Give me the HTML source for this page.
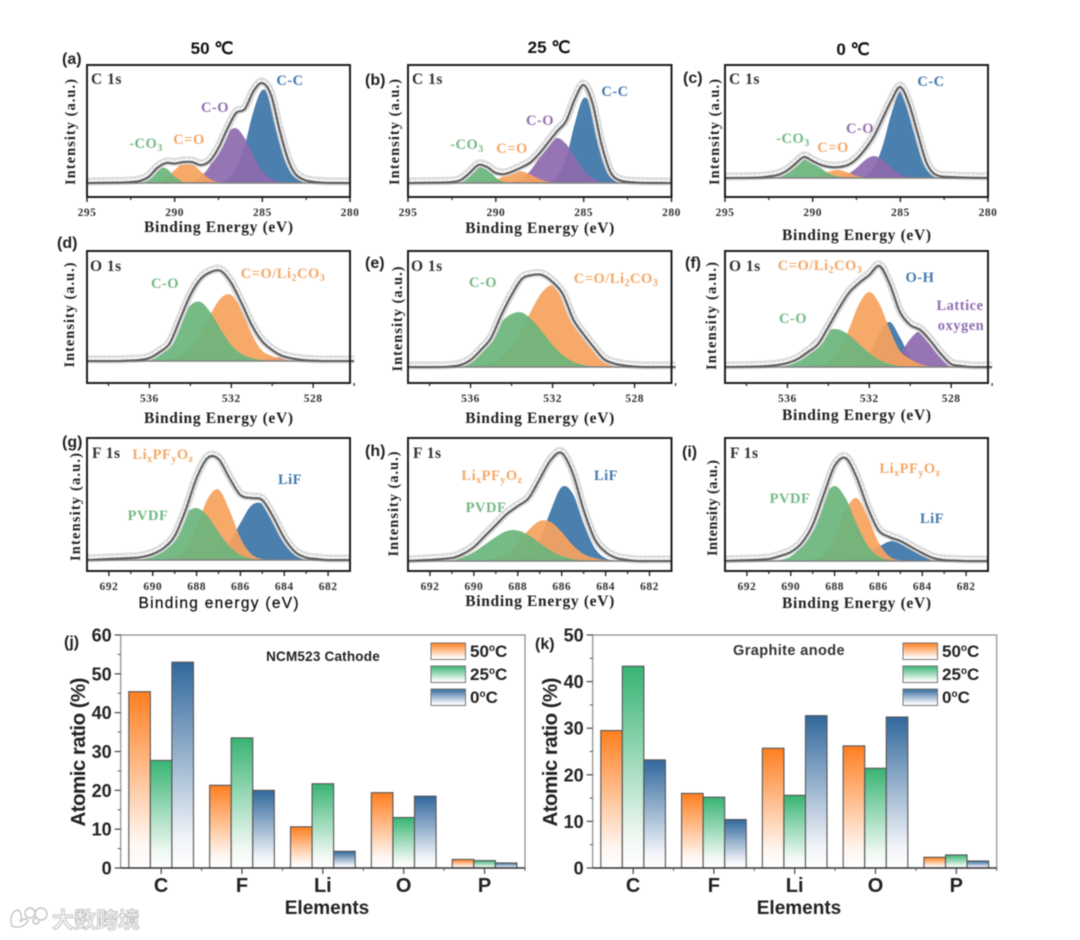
<!DOCTYPE html>
<html lang="en">
<head>
<meta charset="utf-8">
<title>XPS spectra and atomic ratios</title>
<style>
html,body{margin:0;padding:0;background:#fff;}
body{width:1080px;height:940px;overflow:hidden;}
svg{display:block;filter:blur(.5px);}
.sans{font-family:"Liberation Sans",sans-serif;font-weight:bold;}
.serif{font-family:"Liberation Serif",serif;font-weight:bold;}
.note{font-family:"Liberation Serif",serif;font-weight:bold;font-size:14.5px;letter-spacing:.5px;}
.core{font-family:"Liberation Serif",serif;font-weight:bold;font-size:15.5px;fill:#333;letter-spacing:.5px;}
.green{fill:#74b985;}.orange{fill:#f5a766;}.purple{fill:#8f6fb2;}.blue{fill:#427aab;}
.plab{font-family:"Liberation Sans",sans-serif;font-weight:bold;font-size:16px;fill:#222;}
.legend{font-family:"Liberation Sans",sans-serif;font-weight:bold;font-size:17px;fill:#222;}
</style>
</head>
<body>
<svg id="fig" xmlns="http://www.w3.org/2000/svg" width="1080" height="940" viewBox="0 0 1080 940">
<defs>
<linearGradient id="gradOrange" x1="0" y1="0" x2="0" y2="1"><stop offset="0" stop-color="#ff7f20"/><stop offset=".85" stop-color="#fff6f1"/><stop offset="1" stop-color="#ffffff"/></linearGradient>
<linearGradient id="gradGreen" x1="0" y1="0" x2="0" y2="1"><stop offset="0" stop-color="#38b473"/><stop offset=".85" stop-color="#f1f9f4"/><stop offset="1" stop-color="#ffffff"/></linearGradient>
<linearGradient id="gradBlue" x1="0" y1="0" x2="0" y2="1"><stop offset="0" stop-color="#31689c"/><stop offset=".85" stop-color="#f0f3f8"/><stop offset="1" stop-color="#ffffff"/></linearGradient>
</defs>
<rect width="1080" height="940" fill="#fff"/>

<g id="layer-xps"></g>
<g id="layer-bars"></g>

<g class="sans" font-size="17" fill="#111" text-anchor="middle">
<text x="212" y="54">50 ℃</text>
<text x="549" y="53">25 ℃</text>
<text x="853" y="55">0 ℃</text>
</g>

<g>
<text class="plab" x="62" y="64">(a)</text>
<text class="plab" x="365" y="85">(b)</text>
<text class="plab" x="683" y="83">(c)</text>
<text class="plab" x="57" y="248">(d)</text>
<text class="plab" x="365" y="268">(e)</text>
<text class="plab" x="685" y="268">(f)</text>
<text class="plab" x="62" y="447">(g)</text>
<text class="plab" x="365" y="456">(h)</text>
<text class="plab" x="682" y="457">(i)</text>
<text class="plab" x="64" y="647">(j)</text>
<text class="plab" x="535" y="649">(k)</text>
</g>

<g>
<text class="core" x="91" y="84">C 1s</text>
<text class="note green" x="146" y="148" text-anchor="middle">-CO<tspan dy="3" font-size="10">3</tspan></text>
<text class="note orange" x="189" y="144" text-anchor="middle">C=O</text>
<text class="note purple" x="215" y="112" text-anchor="middle">C-O</text>
<text class="note blue" x="290" y="85" text-anchor="middle">C-C</text>

<text class="core" x="412" y="84">C 1s</text>
<text class="note green" x="467" y="149" text-anchor="middle">-CO<tspan dy="3" font-size="10">3</tspan></text>
<text class="note orange" x="512" y="153" text-anchor="middle">C=O</text>
<text class="note purple" x="540" y="125" text-anchor="middle">C-O</text>
<text class="note blue" x="615" y="96" text-anchor="middle">C-C</text>

<text class="core" x="729" y="84">C 1s</text>
<text class="note green" x="793" y="143" text-anchor="middle">-CO<tspan dy="3" font-size="10">3</tspan></text>
<text class="note orange" x="833" y="152" text-anchor="middle">C=O</text>
<text class="note purple" x="860" y="133" text-anchor="middle">C-O</text>
<text class="note blue" x="931" y="86" text-anchor="middle">C-C</text>

<text class="core" x="90" y="271">O 1s</text>
<text class="note green" x="165" y="288" text-anchor="middle">C-O</text>
<text class="note orange" x="283" y="278" text-anchor="middle">C=O/Li<tspan dy="3" font-size="10">2</tspan><tspan dy="-3">CO</tspan><tspan dy="3" font-size="10">3</tspan></text>

<text class="core" x="411" y="271">O 1s</text>
<text class="note green" x="483" y="287" text-anchor="middle">C-O</text>
<text class="note orange" x="616" y="283" text-anchor="middle">C=O/Li<tspan dy="3" font-size="10">2</tspan><tspan dy="-3">CO</tspan><tspan dy="3" font-size="10">3</tspan></text>

<text class="core" x="729" y="271">O 1s</text>
<text class="note orange" x="820" y="270" text-anchor="middle">C=O/Li<tspan dy="3" font-size="10">2</tspan><tspan dy="-3">CO</tspan><tspan dy="3" font-size="10">3</tspan></text>
<text class="note blue" x="920" y="282" text-anchor="middle">O-H</text>
<text class="note purple" x="960" y="310" text-anchor="middle">Lattice</text>
<text class="note purple" x="961" y="330" text-anchor="middle">oxygen</text>
<text class="note green" x="793" y="323" text-anchor="middle">C-O</text>

<text class="core" x="92" y="458">F 1s</text>
<text class="note orange" x="163" y="459" text-anchor="middle">Li<tspan dy="3" font-size="10">x</tspan><tspan dy="-3">PF</tspan><tspan dy="3" font-size="10">y</tspan><tspan dy="-3">O</tspan><tspan dy="3" font-size="10">z</tspan></text>
<text class="note blue" x="290" y="484" text-anchor="middle">LiF</text>
<text class="note green" x="148" y="520" text-anchor="middle">PVDF</text>

<text class="core" x="413" y="458">F 1s</text>
<text class="note orange" x="492" y="480" text-anchor="middle">Li<tspan dy="3" font-size="10">x</tspan><tspan dy="-3">PF</tspan><tspan dy="3" font-size="10">y</tspan><tspan dy="-3">O</tspan><tspan dy="3" font-size="10">z</tspan></text>
<text class="note blue" x="606" y="480" text-anchor="middle">LiF</text>
<text class="note green" x="486" y="512" text-anchor="middle">PVDF</text>

<text class="core" x="730" y="458">F 1s</text>
<text class="note orange" x="910" y="473" text-anchor="middle">Li<tspan dy="3" font-size="10">x</tspan><tspan dy="-3">PF</tspan><tspan dy="3" font-size="10">y</tspan><tspan dy="-3">O</tspan><tspan dy="3" font-size="10">z</tspan></text>
<text class="note blue" x="932" y="523" text-anchor="middle">LiF</text>
<text class="note green" x="790" y="503" text-anchor="middle">PVDF</text>
</g>

<g>
<text class="sans" font-size="13.5" fill="#222" x="323" y="661" text-anchor="middle" letter-spacing=".2">NCM523 Cathode</text>
<text class="sans" font-size="14.5" fill="#333" x="789" y="655" text-anchor="middle" letter-spacing=".4">Graphite anode</text>

<g>
<rect x="431" y="643" width="34.5" height="16.5" fill="url(#gradOrange)" stroke="#777"/>
<text class="legend" x="470" y="657">50<tspan font-size="10" dy="-6">o</tspan><tspan dy="6">C</tspan></text>
<rect x="431" y="666" width="34.5" height="16.5" fill="url(#gradGreen)" stroke="#777"/>
<text class="legend" x="470" y="680">25<tspan font-size="10" dy="-6">o</tspan><tspan dy="6">C</tspan></text>
<rect x="431" y="689" width="34.5" height="16.5" fill="url(#gradBlue)" stroke="#777"/>
<text class="legend" x="470" y="703">0<tspan font-size="10" dy="-6">o</tspan><tspan dy="6">C</tspan></text>
</g>
<g>
<rect x="903" y="643" width="34.5" height="16.5" fill="url(#gradOrange)" stroke="#777"/>
<text class="legend" x="942" y="657">50<tspan font-size="10" dy="-6">o</tspan><tspan dy="6">C</tspan></text>
<rect x="903" y="666" width="34.5" height="16.5" fill="url(#gradGreen)" stroke="#777"/>
<text class="legend" x="942" y="680">25<tspan font-size="10" dy="-6">o</tspan><tspan dy="6">C</tspan></text>
<rect x="903" y="689" width="34.5" height="16.5" fill="url(#gradBlue)" stroke="#777"/>
<text class="legend" x="942" y="703">0<tspan font-size="10" dy="-6">o</tspan><tspan dy="6">C</tspan></text>
</g>
</g>

<g>
<g fill="#fff" stroke="#c4c4c4" stroke-width="1.4">
<path d="M12 926 C9 918 12 911 18 910 C22 912 22 918 20 922 C24 918 27 918 28 921 C25 926 18 929 12 926Z"/>
<circle cx="30" cy="913" r="5"/>
<circle cx="41" cy="914" r="6"/>
<circle cx="36" cy="921" r="3"/>
</g>
<text x="52" y="928" font-family='"Liberation Sans","Noto Sans CJK SC",sans-serif' font-weight="bold" font-size="22" fill="#f3f3f3" stroke="#b5b5b5" stroke-width=".7">大数跨境</text>
</g>
</svg>

<script>
/* ---------- XPS data: binding energy (eV) and intensity (a.u.) ---------- */
const cEnergy = [295,293,292.5,292,291.5,291,290.5,290,289.5,289,288.5,288,287.5,287,286.5,286,285.5,285,284.5,284,283.5,283,282,280];
const oEnergy = [539,537.5,537,536.5,536,535.5,535,534.5,534,533.5,533,532.5,532,531.5,531,530.5,530,529.5,529,528.5,528,527.5,527,526];
const fEnergy = [693,691,690.5,690,689.5,689,688.5,688,687.5,687,686.5,686,685.5,685,684.5,684,683.5,683,682.5,682,681];

const cTicks = [295,290,285,280];
const cMinor = [292.5,287.5,282.5];
const oTicks = [536,532,528];
const oMinor = [538,534,530,526];
const fTicks = [692,690,688,686,684,682];
const fMinor = [691,689,687,685,683];

const aCO3 = [0,0,0,0.7,5,13.6,14.8,6.5,1.1,0,0,0,0,0,0,0,0,0,0,0,0,0,0,0];
const aCdO = [0,0,0,0,0,1.3,5.2,13,20,19.3,11.4,4.1,0.9,0,0,0,0,0,0,0,0,0,0,0];
const aCsO = [0,0,0,0,0,0,0,0,0,1.8,6.5,17,34,50,54.7,44.6,27,12,4,1,0,0,0,0];
const aCC  = [0,0,0,0,0,0,0,0,0,0,0,0,0,3.5,14,38,72,93,83.6,51,22,6.4,0,0];
const aEnv = [0,0.5,1,2,6,15,20,19.5,21,21,18,22,35,54,70,74,92,100,88,52,22,7,1,0];

const bCO3 = [0,0,0,2,9,17.3,14.7,5.4,0.9,0,0,0,0,0,0,0,0,0,0,0,0,0,0,0];
const bCdO = [0,0,0,0,0,0,1,3.2,7.3,11.2,11.6,8.2,3.9,1.3,0,0,0,0,0,0,0,0,0,0];
const bCsO = [0,0,0,0,0,0,0,0,0,1.4,4.9,13,26,39,45,39,26,13,4.9,1.4,0,0,0,0];
const bCC  = [0,0,0,0,0,0,0,0,0,0,0,0,0,1,6.3,25,59.6,85,73,38,11.6,2,0,0];
const bEnv = [0,0.5,1,3,10,18,16,10,9,12,16,21,30,41,52,62,84,98,80,40,12,3,0.5,0];

const cCO3 = [0,0.3,1.2,4,9.5,16,19,16,9.5,4,1.2,0.3,0,0,0,0,0,0,0,0,0,0,0,0];
const cCdO = [0,0,0,0,0,0,0,1.1,3.5,6.8,8,5.5,2.3,0.6,0,0,0,0,0,0,0,0,0,0];
const cCsO = [0,0,0,0,0,0,0,0,0,0,1,3.8,10,18,22,18,10,3.8,1,0,0,0,0,0];
const cCC  = [0,0,0,0,0,0,0,0,0,0,0,0,0.3,2.3,10.7,32.6,65,87,77,45,17.6,4.5,0,0];
const cEnv = [0,0.5,1.5,3,7,14,21,17,13,11,11,13,19,29,42,60,78,91,74,44,15,3.5,1,0];

const dCsO = [0,0,0,0,2,7,19.5,38.5,55.6,59,48,31,16,7,3,1,0,0,0,0,0,0,0,0];
const dCdO = [0,0,0,0,0,0,1.6,5,14,29,47.5,63,66,51,27,10.6,5,2,0.5,0,0,0,0,0];
const dLat = [0,0,0,0,0,0,0,0,0,0,0,0,0,0,0,1,2.5,4,3,1,0,0,0,0];
const dEnv = [0,0,0.5,1,3,9,18,42,66,82,89,90,78,58,36,20,11,5,2.5,1,0.3,0,0,0];

const eCsO = [0,0,1.7,4.5,10,19.5,32,45,53,54.5,47,35,22,11.7,5.3,2,0.6,0,0,0,0,0,0,0];
const eCdO = [0,0,0,0,0,0,3.6,9.3,20,37.5,58,75,82,75,58,37.5,20,9.3,3.6,1.1,0,0,0,0];
const eEnv = [0,0,0.5,2,7,17,29,52,72,88,92,92,85,73,48,33,20,8,3.5,1.5,0.5,0,0,0];

const fCsO = [0,0,1,2.5,6,12.3,21,30.4,37,37.5,32,23,14,7,3,1,0,0,0,0,0,0,0,0];
const fCdO = [0,0,0,0,0,0,0,1,4.7,16,37.5,63,75,63,37.5,16,8,3,0.5,0,0,0,0,0];
const fOH  = [0,0,0,0,0,0,0,0,0,0,0,2.4,13,34,45,29.6,9.7,1.6,0,0,0,0,0,0];
const fLat = [0,0,0,0,0,0,0,0,0,0,0,0,0,0,3.6,13,28,36,28,13,3.6,0.5,0,0];
const fEnv = [0,0.5,1,2,4,8,15,23,40,58,74,84,92,101,83,55,42,37,26,13,3,1,0,0];

const gPVDF = [0,0.4,1.9,6.3,16,31.5,46.5,52,44,28,13.7,5,1.4,0.3,0,0,0,0,0,0,0];
const gLiPF = [0,0,0,0,0,2.2,10.7,32.5,61,70.5,50,22,6,1,0,0,0,0,0,0,0];
const gLiF  = [0,0,0,0,0,0,0,0,1.5,6,18,37,54.5,56,41,21.4,7.9,2,0.4,0,0];
const gEnv  = [0,2,3,6,12,24,50,82,102,101,82,65,62,60,43,22,8,2.5,1,0,0];

const hPVDF = [0,1.6,4,9,16.4,24,30,30.5,25.7,18,10.4,5,2,0.7,0,0,0,0,0,0,0];
const hLiPF = [0,0,0,0,0,2.8,8,18.5,31,40,39,29,16,7,3,1,0.3,0,0,0,0];
const hLiF  = [0,0,0,0,0,0,0,1,5.5,21,50.5,74,67.5,37.5,13,2.8,0.4,0,0,0,0];
const hEnv  = [0,3,7,14,25,36,47,55,63,82,101,108,88,51,22,9,3,1,0,0,0];

const iPVDF = [0,0,1,4.7,15.6,37.5,63,75,63,37.5,15.6,4.7,1,0,0,0,0,0,0,0,0];
const iLiPF = [0,0,0,0,0,1,6.5,24,51,63,45,19,4.6,0.7,0,0,0,0,0,0,0];
const iLiF  = [0,0,0,0,0,0,0,0,1,3.2,7.8,14,19.5,19,13,6.8,2.6,0.7,0,0,0];
const iEnv  = [0,2,5,9,18,36,66,95,103,84,54,31,24,20,14,8,3,1,0.5,0,0];

/* ---------- Bar data: atomic ratio (%) ---------- */
const elements = ['C','F','Li','O','P'];
const jTicks = [0,10,20,30,40,50,60];
const kTicks = [0,10,20,30,40,50];
const jSeries50 = [45.4,21.3,10.6,19.4,2.2];
const jSeries25 = [27.7,33.5,21.7,13,1.9];
const jSeries0  = [53,20,4.3,18.5,1.3];
const kSeries50 = [29.5,16,25.7,26.2,2.3];
const kSeries25 = [43.3,15.2,15.6,21.4,2.8];
const kSeries0  = [23.2,10.4,32.7,32.4,1.5];

const NS = 'http://www.w3.org/2000/svg';
function el(tag, attrs, parent, text){
  const n = document.createElementNS(NS, tag);
  for (const k in attrs) n.setAttribute(k, attrs[k]);
  if (text !== undefined) n.textContent = text;
  parent.appendChild(n);
  return n;
}
function smooth(pts){
  let d = 'M' + pts[0][0].toFixed(2) + ' ' + pts[0][1].toFixed(2);
  for (let i = 0; i < pts.length - 1; i++){
    const p0 = pts[Math.max(i-1,0)], p1 = pts[i], p2 = pts[i+1], p3 = pts[Math.min(i+2,pts.length-1)];
    const seg = p2[0]-p1[0];
    const m1 = (p2[1]-p0[1])/((p2[0]-p0[0])||1);
    const m2 = (p3[1]-p1[1])/((p3[0]-p1[0])||1);
    d += 'C' + (p1[0]+seg/3).toFixed(2) + ' ' + (p1[1]+m1*seg/3).toFixed(2) + ' ' +
         (p2[0]-seg/3).toFixed(2) + ' ' + (p2[1]-m2*seg/3).toFixed(2) + ' ' +
         p2[0].toFixed(2) + ' ' + p2[1].toFixed(2);
  }
  return d;
}

const PEAK = {green:'#6cb57d', orange:'#f6a35f', purple:'#8d6aae', blue:'#3c75a8'};

function drawXps(cfg){
  const root = document.getElementById('layer-xps');
  const g = el('g', {}, root);
  
  
  const X = e => cfg.x0 + (cfg.dom[0]-e)/(cfg.dom[0]-cfg.dom[1])*(cfg.x1-cfg.x0);
  const Y = v => cfg.base - v;

  cfg.peaks.forEach(pk => {
    const pts = cfg.energy.map((e,i) => [X(e), Y(pk.values[i])]);
    const d = smooth(pts) + 'L' + X(cfg.energy[cfg.energy.length-1]).toFixed(2) + ' ' + cfg.base + 'L' + X(cfg.energy[0]).toFixed(2) + ' ' + cfg.base + 'Z';
    const p = el('path', {d:d, fill:PEAK[pk.color], 'fill-opacity':0.93}, g);
    
    
  });

  const envD = smooth(cfg.energy.map((e,i) => [X(e), Y(cfg.env[i])]));
  const raw = el('path', {d:envD, fill:'none', stroke:'#dadada', 'stroke-width':8, 'stroke-linejoin':'round', transform:'translate(0 -1.5)'}, g);
  
  
  const rawDots = el('path', {d:envD, fill:'none', stroke:'#f7f7f7', 'stroke-width':4.5, 'stroke-linecap':'round', 'stroke-dasharray':'0.1 4.5', transform:'translate(0 -1.5)'}, g);
  
  

  const base = el('line', {x1:cfg.x0, x2:cfg.x1, y1:cfg.base, y2:cfg.base, stroke:'#808080', 'stroke-width':1.6}, g);
  
  

  const line = el('path', {d:envD, fill:'none', stroke:'#5c5c5c', 'stroke-width':2.1, 'stroke-linejoin':'round'}, g);
  
  

  const frame = el('rect', {x:cfg.x0, y:cfg.y0, width:cfg.x1-cfg.x0, height:cfg.y1-cfg.y0, fill:'none', stroke:'#1c1c1c', 'stroke-width':2}, g);
  
  

  cfg.ticks.forEach(t => {
    const tk = el('line', {x1:X(t), x2:X(t), y1:cfg.y1, y2:cfg.y1+5, stroke:'#222', 'stroke-width':1.4}, g);
    
    
    const lb = el('text', {x:X(t), y:cfg.y1+19, 'text-anchor':'middle', 'font-size':11.5, fill:'#333', 'letter-spacing':0.5, class:'serif'}, g, String(t));
    
    
  });
  cfg.minor.forEach(t => {
    const tk = el('line', {x1:X(t), x2:X(t), y1:cfg.y1, y2:cfg.y1+3, stroke:'#222', 'stroke-width':1.2}, g);
    
    
  });

  const xt = el('text', {x:(cfg.x0+cfg.x1)/2, y:cfg.xTitleY, 'text-anchor':'middle', fill:cfg.xTitleSans?'#111':'#222', textLength:cfg.xTitleLen||149, lengthAdjust:'spacing', class:cfg.xTitleSans?'sans':'serif', 'font-size':15.5, style:cfg.xTitleSans?'font-weight:normal;stroke:#111;stroke-width:.25':''}, g, cfg.xTitle||'Binding Energy (eV)');
  
  
  const yt = el('text', {transform:'translate('+cfg.yTitleX+' '+cfg.yTitleY+') rotate(-90)', 'text-anchor':'middle', fill:'#222', textLength:cfg.yLen, lengthAdjust:'spacing', class:'serif', 'font-size':14.5}, g, 'Intensity (a.u.)');
  
  
}

const C_DOM = [295,280], O_DOM = [539.05,526.2], F_DOM = [693,681];
const cPeakDefs = (co3,cdo,cso,cc) => [
  {name:'c-c', color:'blue', values:cc},
  {name:'c-o', color:'purple', values:cso},
  {name:'c-double-o', color:'orange', values:cdo},
  {name:'co3', color:'green', values:co3}
];
drawXps({id:'a', x0:87,x1:350,y0:65,y1:197,base:183,dom:C_DOM,energy:cEnergy,ticks:cTicks,minor:cMinor,env:aEnv,peaks:cPeakDefs(aCO3,aCdO,aCsO,aCC),xTitleY:232,yTitleX:75,yTitleY:132,yLen:106});
drawXps({id:'b', x0:408,x1:671.5,y0:65,y1:197,base:183,dom:C_DOM,energy:cEnergy,ticks:cTicks,minor:cMinor,env:bEnv,peaks:cPeakDefs(bCO3,bCdO,bCsO,bCC),xTitleY:233,yTitleX:399,yTitleY:132,yLen:106});
drawXps({id:'c', x0:725,x1:988,y0:65,y1:197,base:178,dom:C_DOM,energy:cEnergy,ticks:cTicks,minor:cMinor,env:cEnv,peaks:cPeakDefs(cCO3,cCdO,cCsO,cCC),xTitleY:240,yTitleX:719,yTitleY:132,yLen:106});
drawXps({id:'d', x0:87,x1:350,y0:251,y1:383,base:361,dom:O_DOM,energy:oEnergy,ticks:oTicks,minor:oMinor,env:dEnv,peaks:[
  {name:'lattice', color:'purple', values:dLat},
  {name:'c-double-o', color:'orange', values:dCdO},
  {name:'c-o', color:'green', values:dCsO}],xTitleY:423,yTitleX:74,yTitleY:315,yLen:105});
drawXps({id:'e', x0:408,x1:671.5,y0:251,y1:383,base:367,dom:O_DOM,energy:oEnergy,ticks:oTicks,minor:oMinor,env:eEnv,peaks:[
  {name:'c-double-o', color:'orange', values:eCdO},
  {name:'c-o', color:'green', values:eCsO}],xTitleY:423,yTitleX:402,yTitleY:319,yLen:105});
drawXps({id:'f', x0:725,x1:988,y0:251,y1:383,base:367,dom:O_DOM,energy:oEnergy,ticks:oTicks,minor:oMinor,env:fEnv,peaks:[
  {name:'o-h', color:'blue', values:fOH},
  {name:'lattice', color:'purple', values:fLat},
  {name:'c-double-o', color:'orange', values:fCdO},
  {name:'c-o', color:'green', values:fCsO}],xTitleY:420,yTitleX:716,yTitleY:316,yLen:108});
drawXps({id:'g', x0:87,x1:350,y0:438,y1:571,base:560,dom:F_DOM,energy:fEnergy,ticks:fTicks,minor:fMinor,env:gEnv,peaks:[
  {name:'lif', color:'blue', values:gLiF},
  {name:'lixpfyoz', color:'orange', values:gLiPF},
  {name:'pvdf', color:'green', values:gPVDF}],xTitle:'Binding energy (eV)',xTitleSans:true,xTitleLen:160,xTitleY:608,yTitleX:80,yTitleY:507,yLen:108});
drawXps({id:'h', x0:408,x1:671.5,y0:438,y1:571,base:561,dom:F_DOM,energy:fEnergy,ticks:fTicks,minor:fMinor,env:hEnv,peaks:[
  {name:'lif', color:'blue', values:hLiF},
  {name:'lixpfyoz', color:'orange', values:hLiPF},
  {name:'pvdf', color:'green', values:hPVDF}],xTitleY:606,yTitleX:398,yTitleY:504,yLen:105});
drawXps({id:'i', x0:725,x1:988,y0:438,y1:571,base:561,dom:F_DOM,energy:fEnergy,ticks:fTicks,minor:fMinor,env:iEnv,peaks:[
  {name:'lif', color:'blue', values:iLiF},
  {name:'lixpfyoz', color:'orange', values:iLiPF},
  {name:'pvdf', color:'green', values:iPVDF}],xTitleY:608,yTitleX:717,yTitleY:508,yLen:96});

function drawBars(cfg){
  const root = document.getElementById('layer-bars');
  const g = el('g', {}, root);
  
  
  const catStep = (cfg.x1 - cfg.x0) / elements.length;
  const barW = catStep * 0.2667;
  const cx = i => cfg.x0 + catStep * (i + 0.5);
  const Y = v => cfg.y0 - v / cfg.max * (cfg.y0 - cfg.y1);

  cfg.series.forEach((s, si) => {
    s.values.forEach((v, i) => {
      const x = cx(i) + (si - 1.5) * barW;
      const r = el('rect', {x:x, y:Y(v), width:barW, height:cfg.y0-Y(v), fill:'url(#'+s.grad+')', stroke:'#555', 'stroke-width':1.1}, g);
      
      
    });
  });

  const frame = el('path', {d:'M'+cfg.x0+' '+cfg.y0+'V'+cfg.y1+'H'+cfg.x1+'V'+cfg.y0, fill:'none', stroke:'#8a8a8a', 'stroke-width':1.2}, g);
  
  
  const xAxis = el('line', {x1:cfg.x0, x2:cfg.x1, y1:cfg.y0, y2:cfg.y0, stroke:'#333', 'stroke-width':1.6}, g);
  
  

  cfg.ticks.forEach((t, i) => {
    const tk = el('line', {x1:cfg.x0-6, x2:cfg.x0, y1:Y(t), y2:Y(t), stroke:'#444', 'stroke-width':1.2}, g);
    
    
    const lb = el('text', {x:cfg.x0-9, y:Y(t)+6.5, 'text-anchor':'end', 'font-size':18, fill:'#222', class:'sans'}, g, String(t));
    
    
    if (i < cfg.ticks.length - 1){
      const mn = el('line', {x1:cfg.x0-3, x2:cfg.x0, y1:Y(t+5), y2:Y(t+5), stroke:'#555', 'stroke-width':1}, g);
      
      
    }
  });
  elements.forEach((c, i) => {
    const tk = el('line', {x1:cx(i), x2:cx(i), y1:cfg.y0, y2:cfg.y0+6, stroke:'#444', 'stroke-width':1.2}, g);
    
    
    const mn = el('line', {x1:cx(i)+catStep/2, x2:cx(i)+catStep/2, y1:cfg.y0, y2:cfg.y0+3, stroke:'#555', 'stroke-width':1}, g);
    
    
    const lb = el('text', {x:cx(i), y:cfg.y0+24, 'text-anchor':'middle', 'font-size':20, fill:'#222', class:'sans'}, g, c);
    
    
  });
  const xt = el('text', {x:cfg.xTitleX, y:914, 'text-anchor':'middle', 'font-size':19, fill:'#222', class:'sans'}, g, 'Elements');
  
  
  const yt = el('text', {transform:'translate('+cfg.yTitleX+' 752) rotate(-90)', 'text-anchor':'middle', 'font-size':20.5, fill:'#222', class:'sans', textLength:149, lengthAdjust:'spacing'}, g, 'Atomic ratio (%)');
  
  
}

drawBars({id:'j', x0:120.7, x1:525, y0:868, y1:635, max:60, ticks:jTicks, xTitleX:327, yTitleX:85, series:[
  {name:'50c', grad:'gradOrange', values:jSeries50},
  {name:'25c', grad:'gradGreen', values:jSeries25},
  {name:'0c', grad:'gradBlue', values:jSeries0}]});
drawBars({id:'k', x0:592.7, x1:996.7, y0:868, y1:635, max:50, ticks:kTicks, xTitleX:799, yTitleX:557, series:[
  {name:'50c', grad:'gradOrange', values:kSeries50},
  {name:'25c', grad:'gradGreen', values:kSeries25},
  {name:'0c', grad:'gradBlue', values:kSeries0}]});
</script>
</body>
</html>
